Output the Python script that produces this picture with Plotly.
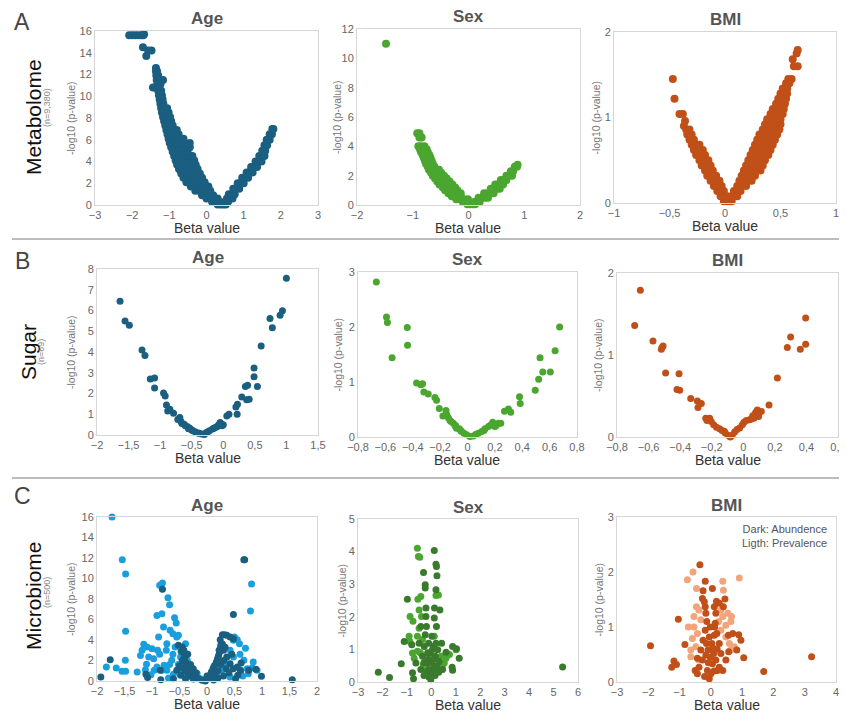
import plotly.graph_objects as go

# The page body adds an 8px margin, so the figure is drawn 8px in from the window corner.
OFF = 8
W, H = 847 - OFF, 714 - OFF

# ---------------- DATA ----------------
# Metabolome (n=9,380): dense bands given as (y, [x values]) rows + outliers
metab_age_rows = [
    (0.05, [0.3, 0.38, 0.45, 0.52]),
    (0.3, [0.15, 0.25, 0.35, 0.5, 0.58]),
    (0.6, [0.0, 0.1, 0.2, 0.3, 0.55, 0.63, 0.7]),
    (0.9, [-0.12, -0.02, 0.08, 0.18]),
    (1.0, [0.6, 0.68, 0.76]),
    (1.3, [-0.3, -0.2, -0.1, 0.0, 0.1]),
    (1.5, [0.72, 0.8, 0.88]),
    (1.7, [-0.42, -0.32, -0.22, -0.12, -0.02, 0.05]),
    (2.0, [0.84, 0.92, 1.0]),
    (2.1, [-0.54, -0.44, -0.34, -0.24, -0.14, -0.05]),
    (2.5, [-0.62, -0.52, -0.42, -0.32, -0.22, -0.12, 0.96, 1.04, 1.12]),
    (2.9, [-0.68, -0.58, -0.48, -0.38, -0.28, -0.18]),
    (3.0, [1.08, 1.16, 1.24]),
    (3.3, [-0.74, -0.64, -0.54, -0.44, -0.34, -0.24]),
    (3.5, [1.2, 1.28, 1.36]),
    (3.7, [-0.79, -0.69, -0.59, -0.49, -0.39, -0.29]),
    (4.0, [1.32, 1.4, 1.48]),
    (4.1, [-0.83, -0.73, -0.63, -0.53, -0.43, -0.33]),
    (4.5, [-0.87, -0.77, -0.67, -0.57, -0.47, -0.38, 1.42, 1.5, 1.56]),
    (4.9, [-0.91, -0.81, -0.71, -0.61, -0.51]),
    (5.0, [1.5, 1.58]),
    (5.3, [-0.95, -0.85, -0.75, -0.65, -0.55, -0.45]),
    (5.5, [1.56, 1.63]),
    (5.7, [-0.99, -0.89, -0.79, -0.69, -0.59, -0.45]),
    (6.0, [1.62, 1.7]),
    (6.1, [-1.02, -0.92, -0.82, -0.72, -0.62]),
    (6.5, [-1.05, -0.95, -0.85, -0.75, 1.7, 1.76]),
    (6.9, [-1.08, -0.98, -0.88, -0.8]),
    (7.0, [1.77, 1.8]),
    (7.3, [-1.11, -1.01, -0.91]),
    (7.7, [-1.14, -1.04, -0.95]),
    (8.1, [-1.17, -1.07, -0.98]),
    (8.5, [-1.2, -1.1, -1.02]),
    (8.9, [-1.22, -1.13, -1.06]),
    (9.3, [-1.24, -1.16]),
    (9.7, [-1.26, -1.18]),
    (10.1, [-1.28, -1.2]),
    (10.5, [-1.3, -1.22]),
    (10.8, [-1.44, -1.38]),
    (11.1, [-1.32, -1.24]),
    (11.5, [-1.34, -1.26, -1.17]),
    (11.9, [-1.35, -1.3]),
    (12.3, [-1.36, -1.33]),
    (12.6, [-1.36]),
    (13.7, [-1.62]),
    (14.2, [-1.48, -1.57]),
    (14.5, [-1.71]),
    (15.6, [-2.08, -2.0, -1.92, -1.84, -1.76, -1.7]),
    (15.7, [-1.68]),
]

metab_sex_rows = [
    (0.05, [-0.02, 0.03, 0.08, 0.12]),
    (0.2, [-0.1, -0.04, 0.1, 0.15, 0.2]),
    (0.4, [-0.22, -0.15, -0.08, -0.01]),
    (0.5, [0.18, 0.24, 0.3, 0.35]),
    (0.6, [-0.3, -0.22, -0.14]),
    (0.8, [-0.36, -0.29, -0.22, -0.14, 0.28, 0.34, 0.4, 0.45]),
    (1.0, [-0.42, -0.34, -0.26, -0.2]),
    (1.1, [0.4, 0.46, 0.51, 0.56]),
    (1.2, [-0.46, -0.39, -0.32, -0.24]),
    (1.4, [-0.52, -0.44, -0.36, -0.29, 0.48, 0.53, 0.58, 0.62]),
    (1.6, [-0.56, -0.49, -0.42, -0.34]),
    (1.7, [0.58, 0.63, 0.68]),
    (1.8, [-0.6, -0.53, -0.46, -0.39]),
    (2.0, [-0.64, -0.58, -0.52, -0.44, 0.68, 0.73, 0.78]),
    (2.2, [-0.67, -0.61, -0.55, -0.49]),
    (2.3, [0.76, 0.8]),
    (2.4, [-0.71, -0.65, -0.59, -0.53]),
    (2.6, [-0.73, -0.67, -0.61, 0.83, 0.87]),
    (2.75, [0.88]),
    (2.8, [-0.76, -0.7, -0.64]),
    (3.0, [-0.78, -0.72, -0.66]),
    (3.2, [-0.8, -0.74, -0.68]),
    (3.4, [-0.82, -0.76, -0.7]),
    (3.6, [-0.85, -0.79, -0.73]),
    (3.8, [-0.87, -0.81, -0.75]),
    (4.0, [-0.9, -0.85, -0.79]),
    (4.6, [-0.88, -0.84]),
    (4.9, [-0.92, -0.88]),
    (11.0, [-1.48]),
]

metab_bmi_rows = [
    (0.02, [-0.01, 0.02, 0.04, 0.06]),
    (0.08, [-0.04, -0.01, 0.02, 0.06, 0.09, 0.11]),
    (0.14, [-0.07, -0.04, -0.01, 0.08, 0.11, 0.14]),
    (0.20, [-0.1, -0.07, -0.03, 0.11, 0.15, 0.19]),
    (0.26, [-0.13, -0.09, -0.05, 0.13, 0.17, 0.21, 0.24]),
    (0.32, [-0.16, -0.12, -0.08, 0.15, 0.19, 0.23, 0.27]),
    (0.38, [-0.18, -0.15, -0.11, 0.17, 0.21, 0.25, 0.29, 0.32]),
    (0.44, [-0.21, -0.17, -0.13, 0.19, 0.23, 0.27, 0.31, 0.34]),
    (0.50, [-0.23, -0.19, -0.15, 0.21, 0.25, 0.29, 0.33, 0.36]),
    (0.56, [-0.26, -0.22, -0.18, 0.23, 0.27, 0.31, 0.35, 0.39]),
    (0.62, [-0.28, -0.24, -0.2, 0.25, 0.29, 0.33, 0.37, 0.41]),
    (0.68, [-0.3, -0.26, -0.23, 0.27, 0.31, 0.35, 0.39, 0.43]),
    (0.74, [-0.32, -0.28, 0.29, 0.33, 0.37, 0.41, 0.45]),
    (0.80, [-0.34, -0.3, 0.31, 0.35, 0.39, 0.43, 0.47]),
    (0.86, [-0.35, -0.32, 0.34, 0.38, 0.42, 0.46, 0.49]),
    (0.90, [-0.37]),
    (0.92, [0.36, 0.4, 0.44, 0.48, 0.5]),
    (0.96, [-0.36]),
    (0.98, [0.38, 0.42, 0.46, 0.5]),
    (1.04, [-0.41, -0.38, 0.41, 0.45, 0.49, 0.52]),
    (1.10, [0.43, 0.47, 0.51, 0.53]),
    (1.16, [0.46, 0.5, 0.54]),
    (1.22, [-0.455, 0.48, 0.52, 0.55]),
    (1.28, [0.5, 0.54, 0.56]),
    (1.34, [0.52, 0.56]),
    (1.40, [0.55, 0.58]),
    (1.45, [-0.47, 0.57, 0.6]),
    (1.60, [0.62, 0.655]),
    (1.68, [0.61]),
    (1.75, [0.645]),
    (1.79, [0.655]),
]

# Sugar (n=69)
sugar_age_x = [-1.635, -1.556, -1.488, -1.287, -1.24, -1.156, -1.088, -1.088, -0.946, -0.92,
               -0.9, -0.88, -0.846, -0.788, -0.688, -0.67, -0.655, -0.62, -0.566, -0.53,
               -0.5, -0.446, -0.4, -0.345, -0.3, -0.275, -0.22, -0.17, -0.12, -0.075,
               -0.04, -0.02, 0.056, 0.09, 0.22, 0.2, 0.225, 0.293, 0.35, 0.385,
               0.37, 0.41, 0.487, 0.487, 0.54, 0.6, 0.74, 0.777, 0.9, 0.937,
               1.0, -0.72, -0.6, -0.48, -0.38, -0.25, -0.1, -0.05, 0.0, -0.55, -0.15]
sugar_age_y = [6.44, 5.5, 5.29, 4.1, 3.83, 2.7, 2.75, 2.27, 2.02, 1.88,
               1.45, 1.16, 1.24, 1.05, 0.84, 0.65, 0.56, 0.52, 0.4, 0.33,
               0.24, 0.16, 0.1, 0.05, 0.02, 0.11, 0.2, 0.29, 0.37, 0.48,
               0.56, 0.45, 0.92, 1.0, 1.0, 1.35, 1.48, 1.83, 2.34, 2.4,
               1.7, 1.72, 3.23, 2.81, 2.34, 4.29, 5.61, 5.17, 5.77, 5.99,
               7.55, 0.75, 0.45, 0.2, 0.08, 0.15, 0.4, 0.6, 0.5, 0.3, 0.33]

sugar_sex_x = [-0.666, -0.592, -0.585, -0.551, -0.44, -0.438, -0.372, -0.34, -0.328, -0.319,
               -0.287, -0.238, -0.226, -0.206, -0.157, -0.152, -0.14, -0.128, -0.104, -0.087,
               -0.08, -0.06, -0.043, -0.026, -0.006, 0.018, 0.043, 0.062, 0.08, 0.104,
               0.128, 0.153, 0.184, 0.2, 0.226, 0.243, 0.27, 0.299, 0.316, 0.38,
               0.385, 0.495, 0.52, 0.53, 0.55, 0.605, 0.64, 0.673,
               -0.18, -0.12, -0.09, -0.05, 0.12, 0.17, 0.21]
sugar_sex_y = [2.82, 2.18, 2.08, 1.44, 1.99, 1.67, 0.98, 0.95, 0.97, 0.82,
               0.78, 0.72, 0.67, 0.52, 0.48, 0.41, 0.35, 0.3, 0.25, 0.21,
               0.16, 0.15, 0.1, 0.07, 0.04, 0.01, 0.02, 0.05, 0.07, 0.1,
               0.15, 0.19, 0.27, 0.19, 0.25, 0.25, 0.47, 0.51, 0.45, 0.73,
               0.61, 0.85, 1.05, 1.44, 1.18, 1.18, 1.57, 2.0,
               0.38, 0.28, 0.2, 0.12, 0.12, 0.22, 0.21]

sugar_bmi_x = [-0.688, -0.652, -0.572, -0.515, -0.508, -0.519, -0.492, -0.407, -0.42, -0.403,
               -0.333, -0.291, -0.287, -0.266, -0.238, -0.213, -0.203, -0.188, -0.15, -0.135,
               -0.114, -0.097, -0.082, -0.07, -0.055, -0.04, -0.023, -0.006, 0.004, 0.019,
               0.04, 0.068, 0.078, 0.089, 0.097, 0.114, 0.163, 0.216, 0.279, 0.3,
               0.361, 0.395, 0.395, -0.23, -0.17, -0.12, 0.06, 0.05]
sugar_bmi_y = [1.36, 1.79, 1.17, 1.09, 1.11, 1.07, 0.78, 0.77, 0.58, 0.57,
               0.47, 0.44, 0.36, 0.41, 0.23, 0.23, 0.19, 0.15, 0.1, 0.08,
               0.05, 0.02, 0.0, 0.02, 0.06, 0.09, 0.11, 0.15, 0.18, 0.2,
               0.21, 0.23, 0.3, 0.33, 0.25, 0.31, 0.39, 0.72, 1.09, 1.22,
               1.07, 1.13, 1.45, 0.2, 0.12, 0.07, 0.26, 0.22]

# Microbiome (n=500): prevalence (light) and abundance (dark)
micro_age_prev = [
    (-1.727, 16.0), (-1.54, 11.84), (-1.48, 10.44), (-1.48, 4.85), (-1.485, 2.02), (-1.545, 0.94),
    (-1.48, 0.94), (-1.65, 1.27), (-1.83, 1.37), (-1.27, 0.88), (-1.18, 2.99), (-1.15, 3.58),
    (-1.09, 3.32), (-1.21, 2.5), (-1.1, 1.63), (-1.0, 3.15), (-0.96, 1.04), (-0.91, 6.4),
    (-0.86, 9.33), (-0.81, 9.56), (-0.82, 6.57), (-0.88, 4.29), (-0.79, 5.27), (-0.73, 3.64),
    (-0.71, 8.13), (-0.68, 7.45), (-0.67, 4.94), (-0.74, 2.99), (-0.78, 1.53), (-0.62, 4.62),
    (-0.59, 6.18), (-0.56, 5.66), (-0.55, 4.29), (-0.52, 4.46), (-0.58, 3.32), (-0.48, 2.34),
    (-0.82, 1.04), (-0.97, 2.18), (-1.06, 2.34), (-0.64, 2.02), (-0.39, 3.64), (-0.36, 2.02),
    (-0.3, 1.37), (-0.18, 0.72), (0.81, 9.46), (0.79, 6.83), (0.48, 3.97), (0.55, 4.03),
    (0.59, 3.64), (0.5, 4.29), (0.42, 2.99), (0.48, 2.34), (0.67, 2.02), (0.84, 1.85),
    (0.73, 1.2), (0.82, 1.3), (0.91, 1.04), (0.61, 0.88), (0.36, 1.69), (0.27, 1.04),
    (0.17, 0.55), (0.12, 1.37), (0.07, 0.39), (0.42, 0.39), (-0.91, 1.37), (-0.73, 1.04),
    (-0.61, 0.65), (-0.48, 1.04), (-0.42, 0.55), (-0.27, 0.39), (-0.12, 0.23), (-0.05, 0.13),
    (-1.02, 0.6), (-0.68, 1.6), (-0.62, 2.6), (-0.7, 0.3), (0.65, 0.5), (0.75, 0.7),
    (-0.86, 2.6), (-0.9, 3.0), (-1.12, 1.1), (-0.52, 1.6), (0.6, 2.6), (0.7, 3.2),
]
micro_age_abund = [
    (-1.93, 0.39), (-1.76, 2.08), (-1.11, 0.65), (-1.08, 0.33), (-0.85, 1.04), (-0.84, 0.13),
    (-0.81, 8.94), (-0.55, 1.04), (-0.52, 3.48), (-0.45, 3.32), (-0.44, 2.83), (-0.41, 2.34),
    (-0.39, 1.85), (-0.36, 1.37), (-0.33, 1.04), (-0.27, 0.72), (-0.21, 0.46), (-0.15, 0.23),
    (-0.09, 0.07), (-0.03, 0.0), (-0.48, 0.55), (-0.39, 0.23), (-0.61, 0.23), (0.02, 0.23),
    (0.05, 0.55), (0.08, 0.88), (0.11, 1.2), (0.14, 1.53), (0.17, 1.85), (0.19, 2.18),
    (0.21, 2.5), (0.23, 2.83), (0.24, 3.15), (0.25, 3.48), (0.24, 4.03), (0.28, 4.52),
    (0.32, 4.52), (0.36, 4.46), (0.42, 4.29), (0.48, 4.13), (0.3, 2.99), (0.36, 2.34),
    (0.42, 1.69), (0.48, 1.2), (0.56, 0.55), (0.61, 1.04), (0.52, 0.23), (0.685, 11.84),
    (0.67, 11.84), (0.48, 6.5), (0.55, 1.37), (0.62, 1.76), (0.76, 1.04), (0.89, 1.14),
    (0.99, 0.46), (1.55, 0.13), (-0.5, 1.5), (-0.45, 2.0), (-0.4, 1.0), (-0.3, 0.5),
    (-0.25, 1.2), (-0.2, 0.8), (0.0, 0.5), (0.1, 0.4), (0.15, 0.8), (0.2, 1.0),
    (0.25, 1.6), (0.3, 2.0), (0.35, 1.2), (0.4, 0.8), (0.45, 2.6), (0.28, 3.6),
    (0.22, 3.0), (-0.47, 2.9), (-0.42, 3.0), (-0.35, 0.8), (-0.3, 1.6), (0.3, 0.5),
    (-0.45, 1.3), (-0.35, 2.6), (-0.25, 0.2), (0.12, 0.1), (0.2, 0.3), (0.33, 3.3),
]

micro_sex_prev = [
    (-0.57, 4.1), (-0.53, 3.85), (-0.47, 3.83), (-0.55, 2.54), (-0.43, 2.62), (-0.87, 2.01),
    (-0.75, 1.86), (-0.91, 1.4), (-0.88, 1.24), (-0.4, 2.01), (-0.5, 1.65), (-0.57, 1.4),
    (0.29, 2.67), (0.19, 2.65), (1.01, 0.99), (0.74, 0.84), (0.53, 0.58), (-0.77, 0.89),
    (-0.7, 0.73), (-0.57, 0.94), (-0.36, 1.3), (-0.33, 0.53), (0.26, 0.38), (0.4, 0.79),
    (0.6, 0.73), (0.12, 1.4), (-0.19, 0.38), (-0.5, 2.21), (-0.45, 0.9), (0.45, 0.5),
]
micro_sex_abund = [
    (-2.17, 0.3), (-1.71, 0.14), (-1.23, 0.56), (-0.73, 0.1), (-1.11, 1.24), (-0.98, 2.54),
    (-0.8, 1.14), (-0.32, 3.36), (-0.25, 2.98), (-0.25, 2.88), (-0.22, 2.27), (0.12, 4.03),
    (0.19, 3.61), (0.21, 3.54), (0.23, 3.26), (0.19, 2.83), (0.13, 2.27), (0.12, 1.96),
    (0.21, 1.7), (0.35, 2.21), (0.42, 1.19), (0.6, 0.91), (0.87, 1.09), (1.03, 1.02),
    (1.14, 0.73), (0.85, 0.45), (0.87, 0.36), (5.37, 0.46), (-0.5, 1.19), (-0.43, 1.7),
    (-0.36, 0.79), (-0.25, 1.45), (-0.16, 0.58), (-0.09, 0.38), (-0.02, 0.07), (0.05, 0.28),
    (0.12, 0.48), (0.16, 0.79), (0.19, 1.19), (0.26, 0.99), (-0.22, 2.01), (-0.2, 1.7),
    (-0.29, 1.09), (0.32, 0.63), (0.46, 0.38), (-0.43, 0.38), (-0.63, 0.58), (-0.77, 0.28),
    (0.02, 1.4), (-0.05, 0.89), (0.09, 1.09), (-0.11, 1.19), (-0.15, 0.9), (0.0, 0.6),
    (-0.05, 0.3), (0.08, 0.7), (-0.2, 0.3), (0.15, 0.2), (-0.3, 0.6), (0.3, 0.3),
    (-0.1, 0.15), (0.05, 1.0), (-0.12, 0.7), (0.1, 0.3), (-0.3, 0.2), (0.22, 0.5),
]

micro_bmi_prev = [
    (-0.75, 1.86), (-0.57, 2.0), (-0.46, 1.7), (-0.46, 1.37), (-0.54, 1.19), (-0.72, 1.0),
    (-0.54, 1.0), (-0.64, 0.58), (-0.59, 0.79), (0.91, 1.89), (0.38, 1.83), (0.4, 1.67),
    (0.66, 1.19), (0.64, 1.1), (0.54, 1.25), (0.48, 1.03), (0.38, 1.19), (0.59, 0.7),
    (0.75, 0.64), (-0.38, 1.31), (-0.32, 1.13), (-0.43, 0.88), (-0.64, 0.46), (-0.48, 0.64),
    (0.32, 0.94), (0.48, 0.82), (0.64, 0.58), (-0.38, 0.4), (0.32, 1.31), (0.25, 1.1),
]
micro_bmi_abund = [
    (-1.93, 0.66), (-1.25, 0.27), (-1.18, 0.38), (-1.1, 0.32), (-1.04, 1.14), (-0.83, 0.68),
    (-0.5, 0.21), (-0.35, 2.13), (-0.18, 1.83), (-0.25, 1.66), (-0.27, 1.52), (-0.21, 1.46),
    (-0.18, 1.37), (-0.16, 1.25), (0.05, 1.7), (0.18, 1.47), (0.27, 1.43), (0.45, 1.51),
    (0.4, 1.37), (0.16, 1.25), (0.14, 1.07), (0.19, 0.88), (0.56, 0.85), (0.7, 0.88),
    (0.89, 0.86), (0.96, 0.76), (0.83, 0.58), (1.05, 0.44), (1.69, 0.19), (3.22, 0.46),
    (0.57, 0.55), (0.48, 0.4), (-0.11, 0.21), (-0.05, 0.06), (0.0, 0.15), (0.05, 0.33),
    (0.09, 0.52), (0.03, 0.7), (-0.05, 0.82), (-0.18, 0.94), (-0.25, 0.76), (-0.32, 0.58),
    (-0.43, 0.43), (-0.38, 0.27), (-0.27, 0.4), (-0.16, 0.49), (0.11, 0.85), (0.16, 0.4),
    (0.27, 0.27), (0.32, 0.52), (0.27, 0.7), (0.21, 0.21), (0.38, 0.21), (-0.43, 0.15),
    (-0.13, 1.1), (0.11, 1.37), (-0.09, 0.58), (-0.02, 1.0), (0.1, 0.2), (-0.2, 0.1),
    (-0.08, 0.35), (0.06, 0.62), (-0.14, 0.7), (0.2, 0.6), (-0.02, 0.45), (0.12, 1.0),
]

col_titles = ["Age", "Sex", "BMI"]
row_letters = ["A", "B", "C"]
row_names = ["Metabolome", "Sugar", "Microbiome"]
row_ns = ["(n=9,380)", "(n=69)", "(n=500)"]

# ---------------- STYLE ----------------
TEAL = "#1a5e80"
GREEN = "#4aa62f"
ORANGE = "#c05018"
LIGHT_BLUE = "#1a9fdc"
DARK_GREEN = "#3a7a2c"
LIGHT_ORANGE = "#f2a47a"
FONT = "Liberation Sans, Arial, sans-serif"


def rows_to_xy(rows):
    xs, ys = [], []
    for y, xl in rows:
        for x in xl:
            xs.append(x)
            ys.append(y)
    return xs, ys


def pairs_to_xy(pairs):
    return [p[0] for p in pairs], [p[1] for p in pairs]


def px(v):
    return (v - OFF) / W


def py(v):
    return 1 - (v - OFF) / H


panels = [
    dict(box=(95, 318, 31, 205), xr=[-3, 3], yr=[0, 16], dx=1, dy=2, ms=8,
         series=[(rows_to_xy(metab_age_rows), TEAL)]),
    dict(box=(357, 580, 29, 205), xr=[-2, 2], yr=[0, 12], dx=1, dy=2, ms=8,
         series=[(rows_to_xy(metab_sex_rows), GREEN)]),
    dict(box=(614, 836, 32, 203), xr=[-1, 1], yr=[0, 2], dx=0.5, dy=1, ms=8,
         series=[(rows_to_xy(metab_bmi_rows), ORANGE)]),
    dict(box=(97, 318, 269, 435), xr=[-2, 1.5], yr=[0, 8], dx=0.5, dy=1, ms=7,
         series=[((sugar_age_x, sugar_age_y), TEAL)]),
    dict(box=(358, 577, 272, 437), xr=[-0.8, 0.8], yr=[0, 3], dx=0.2, dy=1, ms=7,
         series=[((sugar_sex_x, sugar_sex_y), GREEN)]),
    dict(box=(617, 838, 273, 437), xr=[-0.8, 0.6], yr=[0, 2], dx=0.2, dy=1, ms=7,
         series=[((sugar_bmi_x, sugar_bmi_y), ORANGE)]),
    dict(box=(97, 317, 517, 681), xr=[-2, 2], yr=[0, 16], dx=0.5, dy=2, ms=7,
         series=[(pairs_to_xy(micro_age_prev), LIGHT_BLUE), (pairs_to_xy(micro_age_abund), TEAL)]),
    dict(box=(358, 578, 519, 682), xr=[-3, 6], yr=[0, 5], dx=1, dy=1, ms=7,
         series=[(pairs_to_xy(micro_sex_prev), GREEN), (pairs_to_xy(micro_sex_abund), DARK_GREEN)]),
    dict(box=(617, 836, 517, 682), xr=[-3, 4], yr=[0, 3], dx=1, dy=1, ms=7,
         series=[(pairs_to_xy(micro_bmi_prev), LIGHT_ORANGE), (pairs_to_xy(micro_bmi_abund), ORANGE)]),
]

fig = go.Figure()
layout = dict(
    template="none",
    width=W, height=H, margin=dict(l=0, r=0, t=0, b=0, pad=0, autoexpand=False),
    paper_bgcolor="white", plot_bgcolor="white", showlegend=False,
    separators=",.", font=dict(family=FONT, color="#666", size=11),
)
annotations = []
shapes = []

ytitle_x = [[71, 337, 596], [71, 338, 598], [71, 341, 598]]


def ann(text, xpx, ypx, size, color, angle=0, xanchor="center", yanchor="middle", align="center"):
    return dict(text=text, x=px(xpx), y=py(ypx), xref="paper", yref="paper",
                showarrow=False, textangle=angle, xanchor=xanchor, yanchor=yanchor,
                align=align, font=dict(family=FONT, size=size, color=color))


for i, p in enumerate(panels):
    n = i + 1
    l, r, t, b = p["box"]
    xa = "xaxis" if n == 1 else f"xaxis{n}"
    ya = "yaxis" if n == 1 else f"yaxis{n}"
    xref = "x" if n == 1 else f"x{n}"
    yref = "y" if n == 1 else f"y{n}"
    axis_common = dict(showgrid=False, zeroline=False, showline=True, mirror=True,
                       linecolor="#d6d6d6", linewidth=1, ticks="", automargin=False,
                       tickfont=dict(family=FONT, size=11, color="#666"))
    layout[xa] = dict(domain=[px(l), min(px(r), 1)], range=p["xr"], dtick=p["dx"], tick0=0,
                      anchor=yref, **axis_common)
    layout[ya] = dict(domain=[py(b), py(t)], range=p["yr"], dtick=p["dy"], tick0=0,
                      anchor=xref, **axis_common)
    for (xs, ys), color in p["series"]:
        fig.add_trace(go.Scatter(x=xs, y=ys, mode="markers", xaxis=xref, yaxis=yref,
                                 cliponaxis=False,
                                 marker=dict(size=p["ms"], color=color, line=dict(width=0)),
                                 hoverinfo="skip"))
    row, col = divmod(i, 3)
    cx = (l + r) / 2
    annotations.append(ann(f"<b>{col_titles[col]}</b>", cx, t - 12, 17, "#555"))
    annotations.append(ann("Beta value", cx, b + 23, 14, "#333"))
    annotations.append(ann("-log10 (p-value)", ytitle_x[row][col], (t + b) / 2, 10.5, "#777", angle=-90))

row_letter_y = [22, 261, 496]
row_name_pos = [(33, 117), (29, 352), (33, 596)]
row_n_pos = [(47, 108), (41, 352), (47, 593)]
for k in range(3):
    annotations.append(ann(row_letters[k], 22, row_letter_y[k], 23, "#444"))
    annotations.append(ann(row_names[k], row_name_pos[k][0], row_name_pos[k][1], 21, "#111", angle=-90))
    annotations.append(ann(row_ns[k], row_n_pos[k][0], row_n_pos[k][1], 9, "#888", angle=-90))

annotations.append(ann("Dark: Abundence<br>Ligth: Prevalence", 829, 521, 11, "#555",
                       xanchor="right", yanchor="top", align="right"))

for ypx in (239, 478):
    shapes.append(dict(type="line", xref="paper", yref="paper", x0=px(12), x1=1,
                       y0=py(ypx), y1=py(ypx), line=dict(color="#bdbdbd", width=2)))

layout["annotations"] = annotations
layout["shapes"] = shapes
fig.update_layout(**layout)
fig.write_html("out.html")
